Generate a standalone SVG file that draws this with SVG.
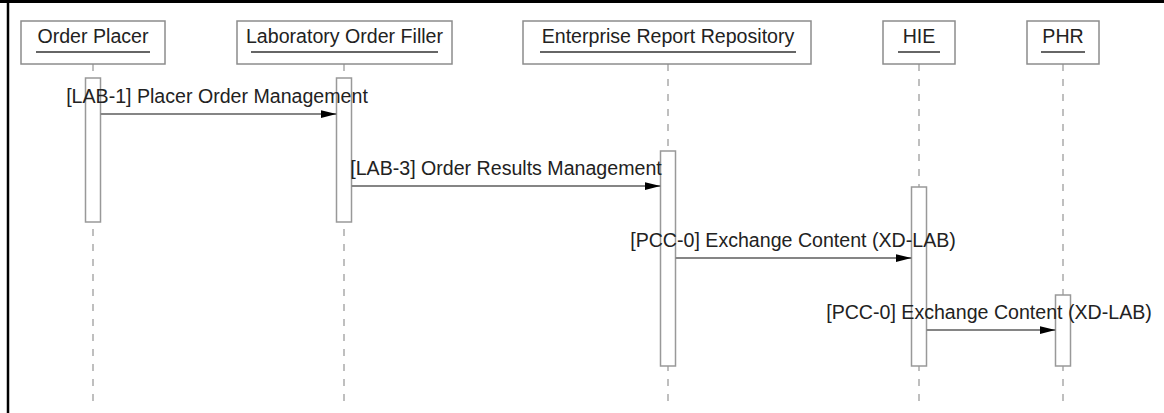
<svg xmlns="http://www.w3.org/2000/svg" width="1164" height="413" viewBox="0 0 1164 413">
<style>
  .box{fill:#fff;stroke:#8c8c8c;stroke-width:1.5}
  .ul{stroke:#333;stroke-width:1.5}
  .t{font-family:"Liberation Sans",Arial,sans-serif;font-size:19.6px;fill:#222;text-anchor:middle}
  .life{stroke:#aaa;stroke-width:1.5;stroke-dasharray:7 8}
  .act{fill:#fff;stroke:#999;stroke-width:1.5}
  .msg{stroke:#858585;stroke-width:2;fill:none;marker-end:url(#ah)}
</style>
<defs>
  <marker id="ah" markerUnits="userSpaceOnUse" markerWidth="18" markerHeight="10" refX="16" refY="5" orient="auto">
    <path d="M0,1 L16,5 L0,9 Z" fill="#000"/>
  </marker>
</defs>
<rect x="0" y="0" width="1164" height="413" fill="#fff"/>
<g id="frame">
  <line x1="0" y1="1.5" x2="1164" y2="1.5" stroke="#000" stroke-width="3"/>
  <line x1="8" y1="0" x2="8" y2="413" stroke="#000" stroke-width="2.5"/>
</g>
<g id="lifelines">
  <line class="life" x1="93" y1="64" x2="93" y2="405"/>
  <line class="life" x1="344" y1="64" x2="344" y2="405"/>
  <line class="life" x1="668" y1="64" x2="668" y2="405"/>
  <line class="life" x1="919" y1="64" x2="919" y2="405"/>
  <line class="life" x1="1063" y1="64" x2="1063" y2="405"/>
</g>
<g id="order-placer">
  <rect class="box" x="21" y="21" width="144" height="43"/>
  <text class="t" x="93" y="43">Order Placer</text>
  <line class="ul" x1="36" y1="52" x2="150" y2="52"/>
  <rect class="act" x="85.5" y="78" width="15" height="144"/>
</g>
<g id="lab-order-filler">
  <rect class="box" x="237" y="21" width="215" height="43"/>
  <text class="t" x="344.5" y="43">Laboratory Order Filler</text>
  <line class="ul" x1="251" y1="52" x2="438" y2="52"/>
  <rect class="act" x="336.5" y="78" width="15" height="144"/>
</g>
<g id="enterprise-report-repository">
  <rect class="box" x="523" y="21" width="288" height="43"/>
  <text class="t" x="668" y="43">Enterprise Report Repository</text>
  <line class="ul" x1="540" y1="52" x2="796" y2="52"/>
  <rect class="act" x="660.5" y="151" width="15" height="215"/>
</g>
<g id="hie">
  <rect class="box" x="883" y="21" width="72" height="43"/>
  <text class="t" x="919" y="43">HIE</text>
  <line class="ul" x1="898" y1="52" x2="940" y2="52"/>
  <rect class="act" x="911.5" y="187" width="15" height="179"/>
</g>
<g id="phr">
  <rect class="box" x="1027" y="21" width="72" height="43"/>
  <text class="t" x="1063" y="43">PHR</text>
  <line class="ul" x1="1041" y1="52" x2="1085" y2="52"/>
  <rect class="act" x="1055.5" y="295" width="15" height="71"/>
</g>
<g id="connectors">
  <line class="msg" x1="100.5" y1="114" x2="336.5" y2="114"/>
  <text class="t" x="217" y="102.5">[LAB-1] Placer Order Management</text>
  <line class="msg" x1="351.5" y1="186" x2="660.5" y2="186"/>
  <text class="t" x="506" y="174.5">[LAB-3] Order Results Management</text>
  <line class="msg" x1="675.5" y1="258" x2="911.5" y2="258"/>
  <text class="t" x="793" y="246.5">[PCC-0] Exchange Content (XD-LAB)</text>
  <line class="msg" x1="926.5" y1="330" x2="1055.5" y2="330"/>
  <text class="t" x="989" y="318.5">[PCC-0] Exchange Content (XD-LAB)</text>
</g>
</svg>
